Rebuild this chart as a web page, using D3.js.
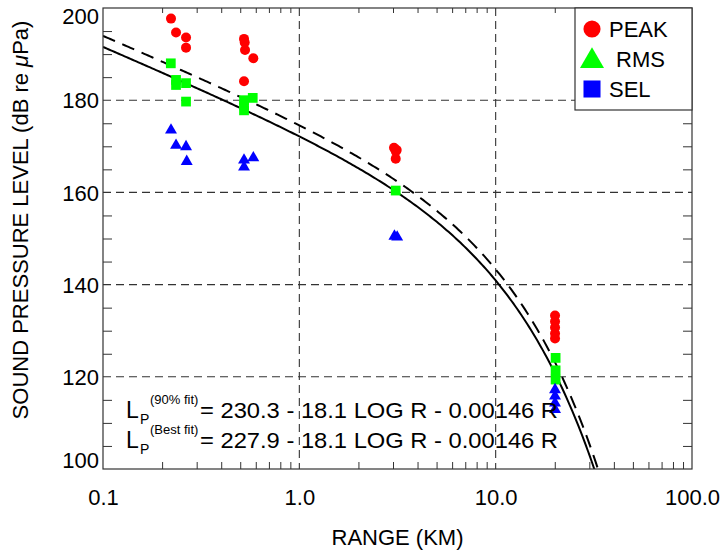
<!DOCTYPE html>
<html>
<head>
<meta charset="utf-8">
<script src="https://cdn.jsdelivr.net/npm/d3@7"></script>
<style>
  html, body { margin: 0; padding: 0; background: #fff; }
  svg { display: block; font-family: "Liberation Sans", Arial, Helvetica, sans-serif; }
</style>
</head>
<body>
<svg id="chart" width="723" height="553"></svg>
<script>
// ---- data ----
const peakRange = [0.222, 0.2355, 0.2648, 0.2648, 0.5227, 0.527, 0.529, 0.583, 0.5227, 3.035, 3.133, 3.10, 3.097, 20.06, 20.06, 20.06, 20.06, 20.06];
const peakLevel = [197.7, 194.7, 193.6, 191.4, 193.3, 192.5, 190.9, 189.1, 184.1, 169.7, 169.2, 168.9, 167.3, 133.3, 132.0, 130.7, 129.4, 128.3];

const rmsRange = [0.2215, 0.2355, 0.2355, 0.2648, 0.2648, 0.5227, 0.5227, 0.5227, 0.579, 3.097, 20.2, 20.2, 20.2];
const rmsLevel = [188.0, 184.4, 183.3, 183.7, 179.7, 180.0, 178.9, 177.8, 180.5, 160.4, 124.1, 121.4, 119.4];

const selRange = [0.222, 0.2355, 0.2648, 0.267, 0.5227, 0.5227, 0.583, 3.05, 3.15, 20.06, 20.06, 20.06, 20.06];
const selLevel = [173.5, 170.2, 169.9, 166.7, 167.0, 165.5, 167.5, 150.5, 150.3, 117.2, 115.8, 114.3, 112.9];

// fit: Lp = A - 18.1 log10(R[m]) - 0.00146 R[m]
const fitNames = ["90% fit", "Best fit"];
const fitIntercept = [230.3, 227.9];
const fitLogCoef = 18.1;
const fitLinCoef = 0.00146;

const xTickValues = [0.1, 1, 10, 100];
const xTickLabels = ["0.1", "1.0", "10.0", "100.0"];
const yTickValues = [100, 120, 140, 160, 180, 200];
const yTickLabels = ["100", "120", "140", "160", "180", "200"];

const legendNames = ["PEAK", "RMS", "SEL"];
const legendColors = ["#ff0000", "#00ff00", "#0000ff"];

// ---- layout ----
const L = 103, R = 692, T = 8, B = 469;
const svg = d3.select("#chart");
const x = d3.scaleLog().domain([0.1, 100]).range([L, R]);
const y = d3.scaleLinear().domain([100, 200]).range([B, T]);

svg.append("defs").append("clipPath").attr("id", "clip")
  .append("rect").attr("x", L).attr("y", T).attr("width", R - L).attr("height", B - T);

// grid
const grid = svg.append("g").attr("stroke", "#333").attr("stroke-width", 1.1).attr("stroke-dasharray", "8,5");
grid.selectAll("line.v").data([1, 10]).join("line")
  .attr("x1", d => x(d)).attr("x2", d => x(d)).attr("y1", T).attr("y2", B);
grid.selectAll("line.h").data([120, 140, 160, 180]).join("line")
  .attr("y1", d => y(d)).attr("y2", d => y(d)).attr("x1", L).attr("x2", R);

// minor ticks
const minorX = [];
[0.1, 1, 10].forEach(dec => { for (let k = 2; k <= 9; k++) minorX.push(dec * k); });
const minorY = d3.range(105, 200, 5).filter(v => v % 20 !== 0);

const tickStyle = g => g.call(s => s.select(".domain").remove())
  .call(s => s.selectAll("line").attr("stroke", "#333").attr("stroke-width", 1))
  .call(s => s.selectAll("text").remove());
svg.append("g").attr("transform", `translate(0,${B})`)
  .call(d3.axisTop(x).tickValues(minorX).tickSize(7)).call(tickStyle);
svg.append("g").attr("transform", `translate(0,${T})`)
  .call(d3.axisBottom(x).tickValues(minorX).tickSize(5)).call(tickStyle);
svg.append("g").attr("transform", `translate(${L},0)`)
  .call(d3.axisRight(y).tickValues(minorY).tickSize(9)).call(tickStyle);
svg.append("g").attr("transform", `translate(${R},0)`)
  .call(d3.axisLeft(y).tickValues(minorY).tickSize(9)).call(tickStyle);

// tick labels via axes
const xAxis = svg.append("g").attr("transform", `translate(0,${B})`)
  .call(d3.axisBottom(x).tickValues(xTickValues).tickSize(0).tickPadding(0)
    .tickFormat((d, i) => xTickLabels[i]));
xAxis.select(".domain").remove();
xAxis.selectAll("text").attr("font-size", 22).attr("fill", "#000")
  .attr("font-family", "Liberation Sans, Arial, sans-serif").attr("dy", "1.62em");

const yAxis = svg.append("g").attr("transform", `translate(${L},0)`)
  .call(d3.axisLeft(y).tickValues(yTickValues).tickSize(0).tickPadding(4)
    .tickFormat((d, i) => yTickLabels[i]));
yAxis.select(".domain").remove();
yAxis.selectAll("text").attr("font-size", 22).attr("fill", "#000")
  .attr("font-family", "Liberation Sans, Arial, sans-serif")
  .attr("dy", d => d === 200 ? "0.72em" : (d === 100 ? "-0.05em" : "0.35em"));

// fit curves
const rSamples = d3.range(-1, 2.0001, 0.01).map(e => Math.pow(10, e));
const line = d3.line().x(d => x(d.r)).y(d => y(d.v));
fitIntercept.forEach((A, i) => {
  const pts = rSamples.map(r => ({ r, v: A - fitLogCoef * Math.log10(r * 1000) - fitLinCoef * r * 1000 }));
  svg.append("path").datum(pts).attr("clip-path", "url(#clip)")
    .attr("d", line).attr("fill", "none").attr("stroke", "#000").attr("stroke-width", 2)
    .attr("stroke-dasharray", i === 0 ? "13,8" : null);
});

// markers
const sym = (type, size) => d3.symbol().type(type).size(size);
svg.append("g").selectAll("circle").data(peakRange.map((r, i) => ({ r, v: peakLevel[i] }))).join("circle")
  .attr("cx", d => x(d.r)).attr("cy", d => y(d.v)).attr("r", 5).attr("fill", legendColors[0]);
svg.append("g").selectAll("path").data(rmsRange.map((r, i) => ({ r, v: rmsLevel[i] }))).join("path")
  .attr("transform", d => `translate(${x(d.r)},${y(d.v)})`).attr("d", sym(d3.symbolSquare, 95)()).attr("fill", legendColors[1]);
svg.append("g").selectAll("path").data(selRange.map((r, i) => ({ r, v: selLevel[i] }))).join("path")
  .attr("transform", d => `translate(${x(d.r)},${y(d.v)})`).attr("d", sym(d3.symbolTriangle, 62)()).attr("fill", legendColors[2]);

// frame
svg.append("rect").attr("x", L).attr("y", T).attr("width", R - L).attr("height", B - T)
  .attr("fill", "none").attr("stroke", "#333").attr("stroke-width", 1.2);

// legend
const lg = svg.append("g");
lg.append("rect").attr("x", 575).attr("y", T).attr("width", R - 575).attr("height", 102)
  .attr("fill", "#fff").attr("stroke", "#333").attr("stroke-width", 1.2);
const legShapes = [d3.symbolCircle, d3.symbolTriangle, d3.symbolSquare];
const legSizes = [230, 250, 290];
const legTextX = [609, 616, 609];
legendNames.forEach((name, i) => {
  const cy = 29 + i * 30;
  lg.append("path").attr("transform", `translate(592,${cy + (i === 1 ? 2 : 0)})`)
    .attr("d", d3.symbol().type(legShapes[i]).size(legSizes[i])()).attr("fill", legendColors[i]);
  lg.append("text").attr("x", legTextX[i]).attr("y", cy).attr("dy", "0.36em")
    .attr("font-size", 22).text(name);
});

// equations
const eq = svg.append("g").attr("fill", "#000");
fitIntercept.forEach((A, i) => {
  const by = 418 + i * 30;
  eq.append("text").attr("x", 126).attr("y", by).attr("font-size", 23).text("L");
  eq.append("text").attr("x", 140).attr("y", by + 6).attr("font-size", 14).text("P");
  eq.append("text").attr("x", 150).attr("y", by - 14).attr("font-size", 13).text("(" + fitNames[i] + ")");
  eq.append("text").attr("x", 200).attr("y", by).attr("font-size", 22.5)
    .attr("textLength", 358).attr("lengthAdjust", "spacingAndGlyphs")
    .text("= " + A.toFixed(1) + " - " + fitLogCoef + " LOG R - " + fitLinCoef + " R");
});

// axis titles
svg.append("text").attr("x", (L + R) / 2).attr("y", 545).attr("text-anchor", "middle")
  .attr("font-size", 22).text("RANGE (KM)");
const yt = svg.append("text").attr("transform", `translate(28,220) rotate(-90)`)
  .attr("text-anchor", "middle").attr("font-size", 22);
yt.append("tspan").text("SOUND PRESSURE LEVEL (dB re ");
yt.append("tspan").attr("font-style", "italic").text("μ");
yt.append("tspan").text("Pa)");
</script>
</body>
</html>
